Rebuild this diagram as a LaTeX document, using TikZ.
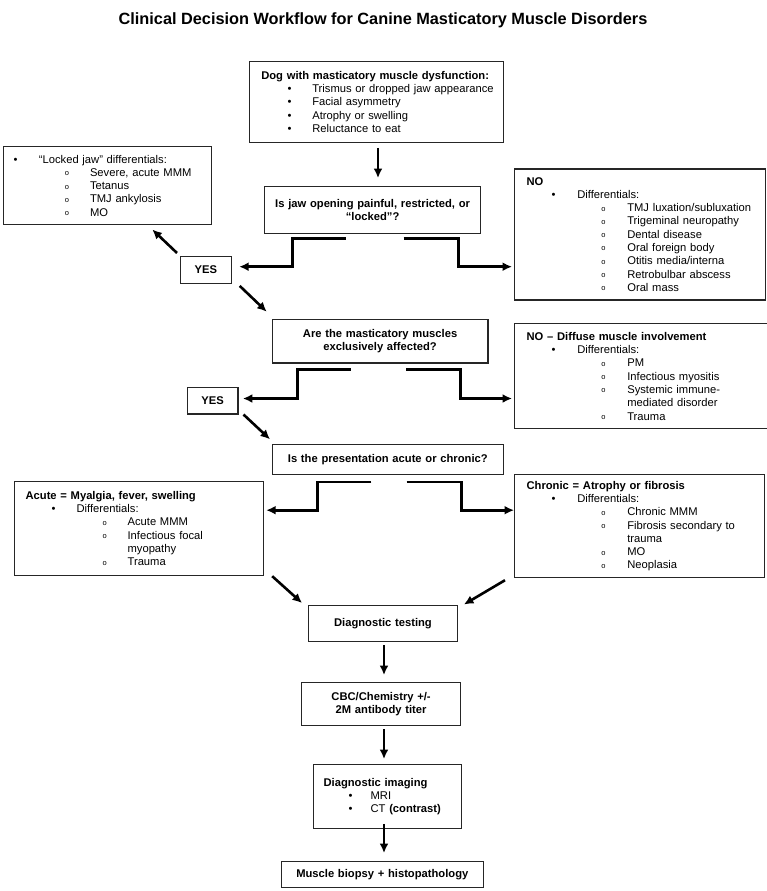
\documentclass[tikz,border=0pt]{standalone}
\usepackage{fontspec}
\setmainfont{Liberation Sans}
\usetikzlibrary{arrows.meta}

\newcommand{\bodyfont}{\fontsize{11.2}{13.3}\selectfont}
\newcommand{\subfont}{\fontsize{7.5}{7.5}\selectfont}
\newcommand{\hd}[2]{\hspace*{#1}\textbf{#2}}
\newcommand{\bul}[3]{\hspace*{#1}\rlap{\textbullet}\hspace*{#2}#3}
\newcommand{\subbul}[3]{\hspace*{#1}\rlap{\raisebox{0.6pt}{\subfont o}}\hspace*{#2}#3}

\tikzset{
  box/.style={draw=black!85, line width=1.2pt, rectangle, anchor=north west,
    inner xsep=0pt, inner ysep=2pt, font=\bodyfont},
  lstbox/.style={box, align=left},
  qbox/.style={box, align=center, font=\bodyfont\bfseries},
  link/.style={line width=2.6pt, -{Latex[length=9.5pt,width=9pt]}},
}

\begin{document}
\begin{tikzpicture}[x=1pt, y=-1pt]
  \useasboundingbox (0,0) rectangle (767,891);

  \node[font=\fontsize{16.3}{19}\selectfont\bfseries] (title) at (383,20)
    {Clinical Decision Workflow for Canine Masticatory Muscle Disorders};

  % first question
  \node[lstbox, text width=254pt, minimum height=81pt] (start) at (249,60.7) {%
    \hd{11.7pt}{Dog with masticatory muscle dysfunction:}\\
    \bul{38pt}{24.7pt}{Trismus or dropped jaw appearance}\\
    \bul{38pt}{24.7pt}{Facial asymmetry}\\
    \bul{38pt}{24.7pt}{Atrophy or swelling}\\
    \bul{38pt}{24.7pt}{Reluctance to eat}};
  \node[qbox, text width=216pt, minimum height=46.7pt] (q1) at (264,186)
    {Is jaw opening painful, restricted, or\\“locked”?};
  \node[lstbox, text width=208pt, minimum height=78pt] (locked) at (2.7,146) {%
    \bul{10.3pt}{25.3pt}{“Locked jaw” differentials:}\\
    \subbul{61.7pt}{25pt}{Severe, acute MMM}\\
    \subbul{61.7pt}{25pt}{Tetanus}\\
    \subbul{61.7pt}{25pt}{TMJ ankylosis}\\
    \subbul{61.7pt}{25pt}{MO}};
  \node[qbox, text width=50.5pt, minimum height=26.7pt] (yes1) at (180,256) {YES};
  \node[lstbox, text width=251pt, minimum height=131pt] (no1) at (514,168.3) {%
    \hd{12pt}{NO}\\
    \bul{37pt}{25.7pt}{Differentials:}\\
    \subbul{86.7pt}{26pt}{TMJ luxation/subluxation}\\
    \subbul{86.7pt}{26pt}{Trigeminal neuropathy}\\
    \subbul{86.7pt}{26pt}{Dental disease}\\
    \subbul{86.7pt}{26pt}{Oral foreign body}\\
    \subbul{86.7pt}{26pt}{Otitis media/interna}\\
    \subbul{86.7pt}{26pt}{Retrobulbar abscess}\\
    \subbul{86.7pt}{26pt}{Oral mass}};

  % second question
  \node[qbox, text width=215.6pt, minimum height=43.3pt] (q2) at (271.7,319)
    {Are the masticatory muscles\\exclusively affected?};
  \node[qbox, text width=50.6pt, minimum height=26.6pt] (yes2) at (186.7,386.7) {YES};
  \node[lstbox, text width=252.7pt, minimum height=105pt] (no2) at (514,323) {%
    \hd{12pt}{NO – Diffuse muscle involvement}\\
    \bul{37pt}{25.7pt}{Differentials:}\\
    \subbul{86.7pt}{26pt}{PM}\\
    \subbul{86.7pt}{26pt}{Infectious myositis}\\
    \subbul{86.7pt}{26pt}{Systemic immune-}\\
    \hspace*{112.7pt}mediated disorder\\
    \subbul{86.7pt}{26pt}{Trauma}};

  % third question
  \node[qbox, text width=231pt, minimum height=30.5pt] (q3) at (271.7,443.5)
    {Is the presentation acute or chronic?};
  \node[lstbox, text width=249pt, minimum height=94.3pt] (acute) at (14,480.7) {%
    \hd{11pt}{Acute = Myalgia, fever, swelling}\\
    \bul{37pt}{25pt}{Differentials:}\\
    \subbul{88pt}{25pt}{Acute MMM}\\
    \subbul{88pt}{25pt}{Infectious focal}\\
    \hspace*{113pt}myopathy\\
    \subbul{88pt}{25pt}{Trauma}};
  \node[lstbox, text width=250pt, minimum height=103pt] (chronic) at (514,474) {%
    \hd{12pt}{Chronic = Atrophy or fibrosis}\\
    \bul{37pt}{25.7pt}{Differentials:}\\
    \subbul{86.7pt}{26pt}{Chronic MMM}\\
    \subbul{86.7pt}{26pt}{Fibrosis secondary to}\\
    \hspace*{112.7pt}trauma\\
    \subbul{86.7pt}{26pt}{MO}\\
    \subbul{86.7pt}{26pt}{Neoplasia}};

  % work-up
  \node[qbox, text width=148.7pt, minimum height=36.5pt] (testing) at (308,604.5) {Diagnostic testing};
  \node[qbox, text width=159pt, minimum height=43.3pt] (cbc) at (301,681.7)
    {CBC/Chemistry +/-\\2M antibody titer};
  \node[lstbox, text width=148pt, minimum height=63.7pt] (imaging) at (312.7,764) {%
    \hd{10.3pt}{Diagnostic imaging}\\
    \bul{35.3pt}{22pt}{MRI}\\
    \bul{35.3pt}{22pt}{CT \textbf{(contrast)}}};
  \node[qbox, text width=202pt, minimum height=25.7pt] (biopsy) at (280.7,861)
    {Muscle biopsy + histopathology};

  \coordinate (topaxis) at (378,0);
  \coordinate (axis) at (384,0);
  \coordinate (q1l) at ([shift={(-80,32.8)}]q1.south);
  \coordinate (q1r) at ([shift={(86,32.8)}]q1.south);
  \coordinate (q2l) at ([shift={(-82.8,35)}]q2.south);
  \coordinate (q2r) at ([shift={(80.5,35)}]q2.south);
  \coordinate (q3l) at ([shift={(-70.2,35)}]q3.south);
  \coordinate (q3r) at ([shift={(73.5,35)}]q3.south);

  \draw[link, shorten <=5pt, shorten >=8pt] (start.south -| topaxis) -- (q1.north -| topaxis);
  \draw[link, shorten >=7.5pt] ([shift={(-27,4.3)}]q1.south) -| (q1l) -- (q1l -| yes1.east);
  \draw[link, shorten >=2pt] ([shift={(31,4.3)}]q1.south) -| (q1r) -- (q1r -| no1.west);
  \draw[link] ([shift={(-3,-3)}]yes1.north west) -- ([shift={(45,4.3)}]locked.south);
  \draw[link] ([shift={(8,2)}]yes1.south east) -- ([shift={(-5,-7.3)}]q2.north west);

  \draw[link, shorten >=4.4pt] ([shift={(-29.5,6)}]q2.south) -| (q2l) -- (q2l -| yes2.east);
  \draw[link, shorten >=2pt] ([shift={(26.2,6)}]q2.south) -| (q2r) -- (q2r -| no2.west);
  \draw[link] ([shift={(5,0)}]yes2.south east) -- ([shift={(-1.7,-4.2)}]q3.north west);

  \draw[link, shorten >=2pt] ([shift={(-16.5,6.7)}]q3.south) -| (q3l) -- (q3l -| acute.east);
  \draw[link] ([shift={(18.8,6.7)}]q3.south) -| (q3r) -- (q3r -| chronic.west);
  \draw[link] ([shift={(8,0)}]acute.south east) -- ([shift={(-6,-1.5)}]testing.north west);
  \draw[link] ([shift={(-9,2)}]chronic.south west) -- ([shift={(6,0)}]testing.north east);

  \draw[link, shorten <=3pt, shorten >=6.7pt] (testing.south -| axis) -- (cbc.north -| axis);
  \draw[link, shorten <=3pt, shorten >=5pt] (cbc.south -| axis) -- (imaging.north -| axis);
  \draw[link, shorten <=-5pt, shorten >=8pt] (imaging.south -| axis) -- (biopsy.north -| axis);
\end{tikzpicture}
\end{document}
